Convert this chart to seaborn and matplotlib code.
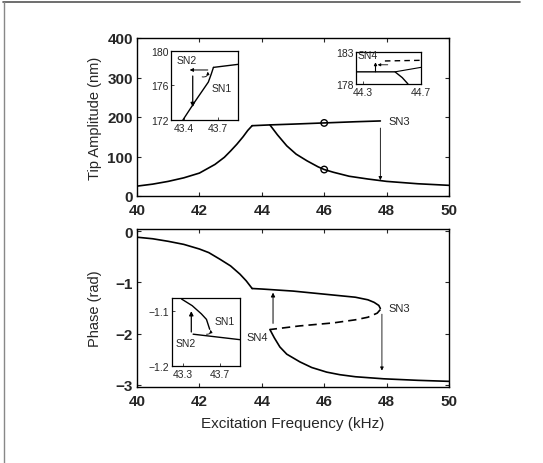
import numpy as np
import pandas as pd
import matplotlib
matplotlib.use('Agg')
import matplotlib.pyplot as plt
import seaborn as sns
from matplotlib.lines import Line2D

sns.set_theme(style='ticks')
plt.rcParams['font.family'] = ['Liberation Sans', 'DejaVu Sans']

# ---- amplitude, main panel
amp_f1 = [40, 40.5, 41, 41.5, 42, 42.5, 42.8, 43, 43.2, 43.4, 43.55, 43.69]
amp_a1 = [25, 30, 37, 46, 58, 80, 98, 114, 131, 150, 166, 178]
amp_fu = [43.69, 44.26, 45, 46, 47, 47.8]
amp_au = [178, 180, 182, 185, 188, 190]
amp_f2 = [44.26, 44.5, 44.8, 45.1, 45.45, 45.8, 46, 46.3, 46.8, 47.4, 48, 49, 50]
amp_a2 = [180, 155, 127, 106, 89, 74, 67, 60, 50, 43, 37, 31, 27]
circ_f = [46, 46]
circ_a = [185, 67]

# ---- amplitude inset near SN1/SN2
in1_f = [43.39, 43.5, 43.615, 43.64, 43.66]
in1_a = [172.0, 174.2, 176.4, 177.3, 178.1]
in1_fu = [43.66, 43.877]
in1_au = [178.1, 178.45]

# ---- amplitude inset near SN4
in2_f = [44.25, 44.44, 44.52, 44.57, 44.61]
in2_a = [179.9, 179.9, 179.9, 179.0, 178.0]
in2_fu = [44.52, 44.7]
in2_au = [179.9, 180.6]
in2_fd = [44.45, 44.7]
in2_ad = [181.6, 181.7]

# ---- phase, main panel
ph_f1 = [40, 40.5, 41, 41.5, 42, 42.3, 42.66, 43, 43.3, 43.5, 43.69]
ph_p1 = [-0.12, -0.15, -0.2, -0.26, -0.35, -0.42, -0.55, -0.68, -0.84, -0.97, -1.12]
ph_fu = [43.69, 44, 44.5, 45, 45.5, 46, 46.5, 47, 47.4, 47.6, 47.75, 47.8]
ph_pu = [-1.12, -1.13, -1.15, -1.17, -1.2, -1.23, -1.26, -1.29, -1.34, -1.39, -1.45, -1.51]
ph_fd = [47.8, 47.7, 47.4, 47, 46.3, 45.2, 44.26]
ph_pd = [-1.53, -1.6, -1.68, -1.73, -1.79, -1.85, -1.92]
ph_f2 = [44.26, 44.4, 44.58, 44.8, 45.22, 45.6, 46.08, 46.5, 47, 47.9, 49, 50]
ph_p2 = [-1.92, -2.08, -2.26, -2.4, -2.55, -2.66, -2.75, -2.8, -2.84, -2.88, -2.91, -2.93]

# ---- phase inset
in3_f = [43.285, 43.4, 43.5, 43.555, 43.59]
in3_p = [-1.078, -1.09, -1.105, -1.115, -1.133]
in3_fl = [43.41, 43.92]
in3_pl = [-1.142, -1.152]

W, H = 543, 464
fig = plt.figure(figsize=(W / 100, H / 100), dpi=100)


def box(x0, y0, x1, y1):
    return [x0 / W, (H - y1) / H, (x1 - x0) / W, (y1 - y0) / H]


def curve(ax, x, y, ls='-', lw=1.2):
    d = pd.DataFrame({'x': x, 'y': y})
    sns.lineplot(data=d, x='x', y='y', ax=ax, color='black', lw=lw, ls=ls,
                 sort=False, estimator=None)
    ax.set_xlabel('')
    ax.set_ylabel('')


def arrow(ax, x0, y0, x1, y1, lw=0.9, style='-|>', ms=6, conn=None):
    kw = dict(arrowstyle=style, color='black', lw=lw, mutation_scale=ms,
              shrinkA=0, shrinkB=0)
    if conn:
        kw['connectionstyle'] = conn
    ax.annotate('', xy=(x1, y1), xytext=(x0, y0), arrowprops=kw)


def style_main(ax):
    ax.tick_params(direction='in', top=True, right=True, length=3, width=0.8,
                   labelsize=11, pad=3)
    ax.tick_params(axis='x', pad=5)
    for lab in ax.get_xticklabels() + ax.get_yticklabels():
        lab.set_fontweight('bold')
    for s in ax.spines.values():
        s.set_linewidth(1.0)
        s.set_color('black')


def style_inset(ax):
    ax.tick_params(direction='in', top=False, right=False, length=2, width=0.6,
                   labelsize=7.5, pad=2)
    for s in ax.spines.values():
        s.set_linewidth(0.9)
        s.set_color('black')


# ================= top panel =================
ax1 = fig.add_axes(box(137, 39, 449, 197))
curve(ax1, amp_f1, amp_a1)
curve(ax1, amp_fu, amp_au)
curve(ax1, amp_f2, amp_a2)
sns.scatterplot(x=circ_f, y=circ_a, ax=ax1, s=22, facecolor='none',
                edgecolor='black', linewidth=1.0, zorder=5)
arrow(ax1, 47.8, 172, 47.8, 40, lw=0.6, ms=5)
ax1.text(48.05, 190, 'SN3', fontsize=8, va='center', ha='left')
ax1.set_xlim(40, 50)
ax1.set_ylim(0, 400)
ax1.set_xticks([40, 42, 44, 46, 48, 50])
ax1.set_yticks([0, 100, 200, 300, 400])
ax1.set_ylabel('Tip Amplitude (nm)', fontsize=10.5, labelpad=4)
style_main(ax1)

# inset SN1/SN2
ia = fig.add_axes(box(171, 52, 238, 121))
curve(ia, in1_f, in1_a, lw=1.0)
curve(ia, in1_fu, in1_au, lw=1.0)
arrow(ia, 43.61, 177.8, 43.45, 177.8, lw=0.7, ms=5)
arrow(ia, 43.477, 177.1, 43.477, 173.5, lw=0.9, ms=6)
arrow(ia, 43.56, 177.0, 43.61, 177.6, lw=0.6, ms=4, conn='arc3,rad=0.6')
ia.text(43.33, 178.9, 'SN2', fontsize=7.5, va='center')
ia.text(43.64, 175.7, 'SN1', fontsize=7.5, va='center')
ia.set_xlim(43.285, 43.877)
ia.set_ylim(172, 180)
ia.set_xticks([43.4, 43.7])
ia.set_xticklabels(['43.4', '43.7'])
ia.set_yticks([172, 176, 180])
style_inset(ia)

# inset SN4
ib = fig.add_axes(box(356, 53, 421, 85))
curve(ib, in2_f, in2_a, lw=1.0)
curve(ib, in2_fu, in2_au, lw=0.8)
curve(ib, in2_fd, in2_ad, ls=(0, (4, 3)), lw=1.0)
arrow(ib, 44.385, 179.9, 44.385, 181.4, lw=0.8, ms=4)
arrow(ib, 44.47, 181.0, 44.4, 181.0, lw=0.6, ms=4)
ib.text(44.26, 182.6, 'SN4', fontsize=7.5, va='center')
ib.set_xlim(44.25, 44.7)
ib.set_ylim(178, 183)
ib.set_xticks([44.3, 44.7])
ib.set_xticklabels(['44.3', '44.7'])
ib.set_yticks([178, 183])
style_inset(ib)

# ================= bottom panel =================
ax2 = fig.add_axes(box(137, 230, 449, 388))
curve(ax2, ph_f1, ph_p1)
curve(ax2, ph_fu, ph_pu)
curve(ax2, ph_fd, ph_pd, ls=(0, (5, 3)))
curve(ax2, ph_f2, ph_p2)
arrow(ax2, 44.36, -1.8, 44.36, -1.2, lw=0.7, ms=6)
arrow(ax2, 47.85, -1.62, 47.85, -2.72, lw=0.6, ms=5)
ax2.text(48.05, -1.5, 'SN3', fontsize=8, va='center', ha='left')
ax2.text(43.5, -2.07, 'SN4', fontsize=8, va='center', ha='left')
ax2.set_xlim(40, 50)
ax2.set_ylim(-3.04, 0.04)
ax2.set_xticks([40, 42, 44, 46, 48, 50])
ax2.set_yticks([-3, -2, -1, 0])
ax2.set_yticklabels(['\u22123', '\u22122', '\u22121', '0'])
ax2.set_ylabel('Phase (rad)', fontsize=10.5, labelpad=10)
ax2.set_xlabel('Excitation Frequency (kHz)', fontsize=11, labelpad=6)
style_main(ax2)

# inset phase
ic = fig.add_axes(box(172, 299, 240, 367))
curve(ic, in3_f, in3_p, lw=1.0)
curve(ic, in3_fl, in3_pl, lw=1.0)
arrow(ic, 43.39, -1.138, 43.39, -1.1, lw=0.9, ms=6)
arrow(ic, 43.555, -1.142, 43.6, -1.134, lw=0.6, ms=4, conn='arc3,rad=0.6')
ic.text(43.645, -1.118, 'SN1', fontsize=7.5, va='center')
ic.text(43.22, -1.158, 'SN2', fontsize=7.5, va='center')
ic.set_xlim(43.18, 43.92)
ic.set_ylim(-1.2, -1.076)
ic.set_xticks([43.3, 43.7])
ic.set_xticklabels(['43.3', '43.7'])
ic.set_yticks([-1.2, -1.1])
ic.set_yticklabels(['\u22121.2', '\u22121.1'])
style_inset(ic)

# scan frame lines (top and left)
fig.add_artist(Line2D([3 / W, 520 / W], [1 - 3 / H, 1 - 3 / H], color='#555555', lw=1.2))
fig.add_artist(Line2D([4 / W, 4 / W], [0, 1 - 3 / H], color='#888888', lw=1.0))

fig.savefig('out.png', dpi=100)
